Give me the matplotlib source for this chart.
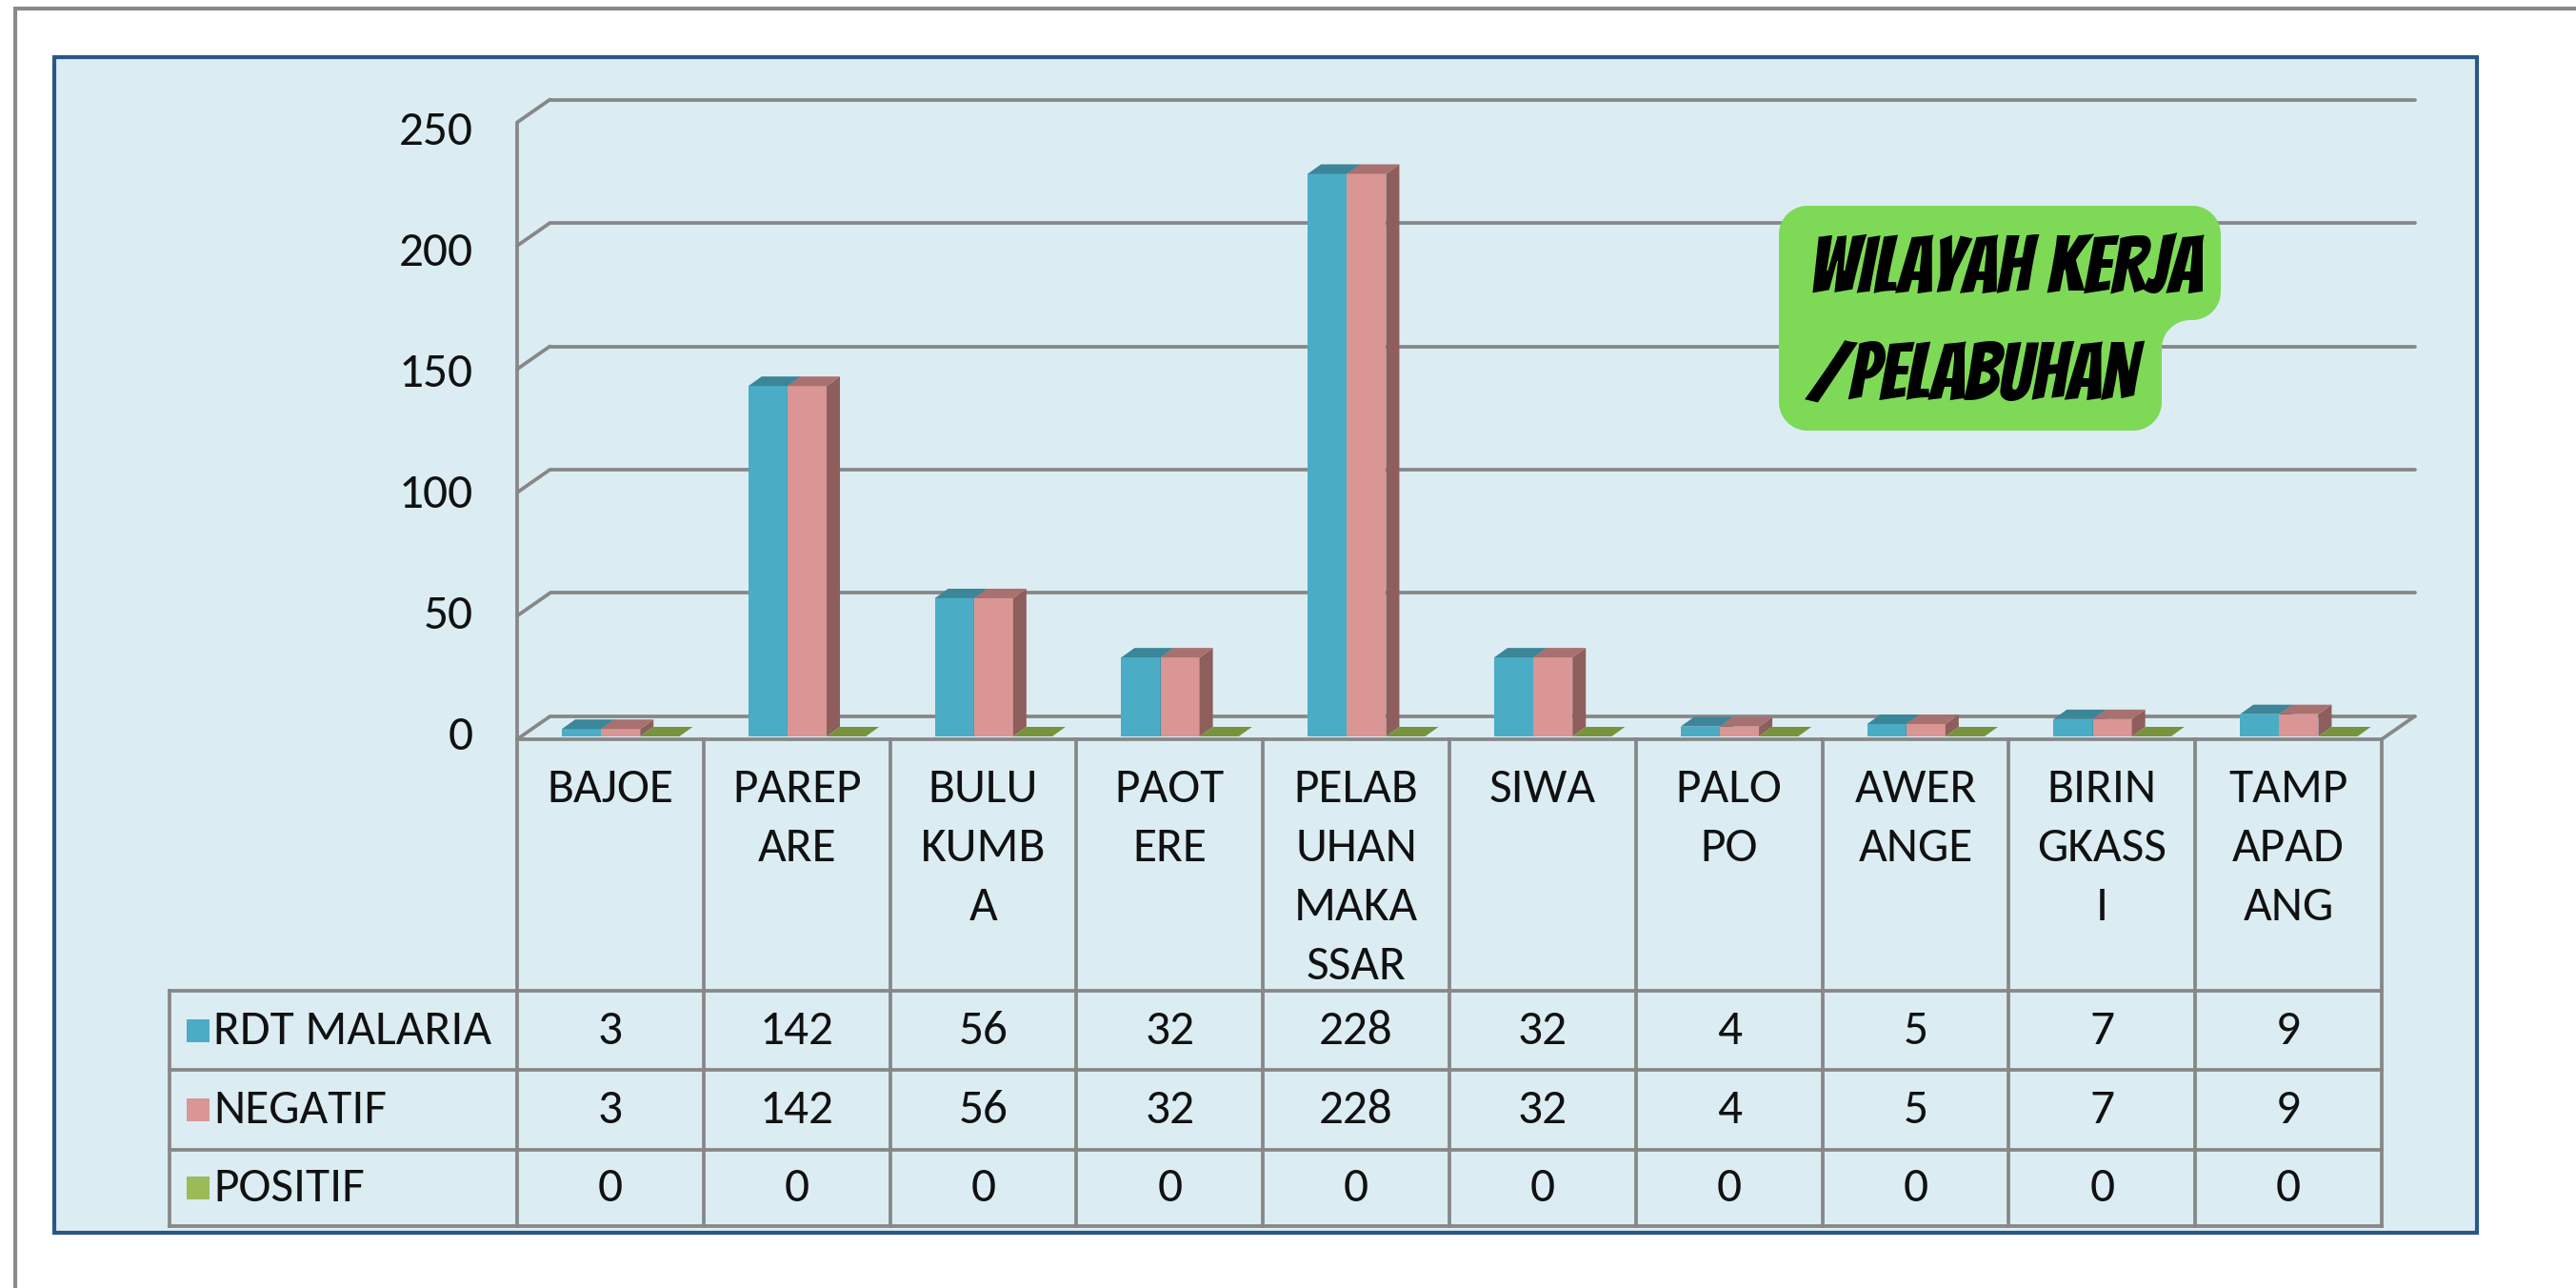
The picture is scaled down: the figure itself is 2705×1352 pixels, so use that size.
import matplotlib
matplotlib.use("Agg")
import matplotlib.pyplot as plt
import numpy as np
from matplotlib.patches import Polygon, Rectangle, PathPatch
from matplotlib.path import Path
import matplotlib.transforms as mtransforms

# ---------------- data ----------------
categories = ["BAJOE", "PAREP\nARE", "BULU\nKUMB\nA", "PAOT\nERE",
              "PELAB\nUHAN\nMAKA\nSSAR", "SIWA", "PALO\nPO", "AWER\nANGE",
              "BIRIN\nGKASS\nI", "TAMP\nAPAD\nANG"]
rdt_malaria = [3, 142, 56, 32, 228, 32, 4, 5, 7, 9]
negatif = [3, 142, 56, 32, 228, 32, 4, 5, 7, 9]
positif = [0, 0, 0, 0, 0, 0, 0, 0, 0, 0]
series_names = ["RDT MALARIA", "NEGATIF", "POSITIF"]
y_ticks = [0, 50, 100, 150, 200, 250]
box_title = "WILAYAH KERJA\n/PELABUHAN"

# ---------------- styling ----------------
W, H, DPI = 2705, 1352, 100
FONT = ["Carlito", "Lato", "DejaVu Sans"]
FS = 37
C_BG = "#DBEDF3"
C_GRID = "#878787"
front_cols = ["#4BACC6", "#D99694", "#9BBB59"]
top_cols = ["#3B8699", "#A8716F", "#77933C"]
side_cols = ["#357A8D", "#8E5E5C", "#6A8535"]

fig = plt.figure(figsize=(W / DPI, H / DPI), dpi=DPI)
fig.patch.set_facecolor("white")

def fx(px):
    return px / W

def fy(py):
    return 1 - py / H

# outer gray frame and light-blue chart area
fig.add_artist(Rectangle((fx(16), fy(1500)), fx(3000), (1500 - 9) / H, fill=False,
                         edgecolor="#8A8A8A", lw=3, transform=fig.transFigure, zorder=-2))
fig.add_artist(Rectangle((fx(57), fy(1294)), fx(2601 - 57), (1294 - 60) / H,
                         facecolor=C_BG, edgecolor="#2A5788", lw=3,
                         transform=fig.transFigure, zorder=-1))

# main axes: x = category units (0..10), y = values
x_left, x_right = 543, 2501
y_base, px_per_unit = 773, 2.59
ymax = 250
ax = fig.add_axes([fx(x_left), fy(y_base), fx(x_right - x_left), ymax * px_per_unit / H])
ax.set_xlim(0, len(categories))
ax.set_ylim(0, ymax)
ax.axis("off")
ax.patch.set_visible(False)

col_px = (x_right - x_left) / len(categories)
dxw = 34.5 / col_px          # wall depth (x units)
back_off = 21 / px_per_unit  # back wall zero level (value units)
front_off = -3 / px_per_unit # front floor edge (value units)
dxb = 14 / col_px            # bar depth
dvb = 10 / px_per_unit
n = len(categories)

lk = dict(color=C_GRID, lw=2.7, clip_on=False, zorder=1, solid_capstyle="round")
# back wall gridlines + diagonals
for v in y_ticks:
    ax.plot([dxw, n + dxw], [v + back_off, v + back_off], **lk)
    ax.plot([0, dxw], [v + front_off, v + back_off], **lk)
# front left axis, front floor edge, right floor edge
ax.plot([0, 0], [front_off, y_ticks[-1] + front_off], **lk)
ax.plot([0, n], [front_off, front_off], **lk)
ax.plot([n, n + dxw], [front_off, back_off], **lk)

# y tick labels
for v in y_ticks:
    ax.text(-0.235, v * 0.981, str(v), ha="right", va="center", fontsize=FS,
            family=FONT, color="#111111", clip_on=False)

# bars
def bar3d(x0, x1, v, k):
    kw = dict(closed=True, ec="none", zorder=3, clip_on=False)
    if v > 0:
        ax.add_patch(Polygon([(x0, 0), (x1, 0), (x1, v), (x0, v)], fc=front_cols[k], **kw))
        ax.add_patch(Polygon([(x1, 0), (x1 + dxb, dvb), (x1 + dxb, v + dvb), (x1, v)],
                             fc=side_cols[k], **kw))
    ax.add_patch(Polygon([(x0, v), (x1, v), (x1 + dxb, v + dvb), (x0 + dxb, v + dvb)],
                         fc=top_cols[k], **kw))

offsets = [0.24, 0.45, 0.66]
bw = 0.21
for i in range(n):
    for k, series in enumerate([rdt_malaria, negatif, positif]):
        x0 = i + offsets[k]
        bar3d(x0, x0 + bw, series[i], k)

# ---------------- data table ----------------
bt = mtransforms.blended_transform_factory(ax.transData, fig.transFigure)
tl = dict(color=C_GRID, lw=2.7, clip_on=False, zorder=1)
table_left_px = 178
rows_px = [1040, 1123, 1207, 1287]
for i in range(n + 1):
    ax.plot([i, i], [fy(776), fy(rows_px[-1])], transform=bt, **tl)
ax_left_data = (table_left_px - x_left) / col_px
for r in rows_px:
    ax.plot([ax_left_data, n], [fy(r), fy(r)], transform=bt, **tl)
ax.plot([ax_left_data, ax_left_data], [fy(rows_px[0]), fy(rows_px[-1])], transform=bt, **tl)

# category labels
for i, c in enumerate(categories):
    ax.text(i + 0.5, fy(806), c, transform=bt, ha="center", va="top", fontsize=FS,
            family=FONT, linespacing=1.5, color="#111111", clip_on=False)

# rows
for r, (name, series) in enumerate(zip(series_names, [rdt_malaria, negatif, positif])):
    yc = (rows_px[r] + rows_px[r + 1]) / 2
    sq = 24
    fig.add_artist(Rectangle((fx(196), fy(yc + sq / 2)), fx(sq), sq / H,
                             facecolor=front_cols[r], edgecolor="none",
                             transform=fig.transFigure, zorder=2))
    fig.text(fx(224), fy(yc), name, ha="left", va="center", fontsize=FS,
             family=FONT, color="#111111")
    for i, val in enumerate(series):
        ax.text(i + 0.5, fy(yc), str(val), transform=bt, ha="center", va="center",
                fontsize=FS, family=FONT, color="#111111", clip_on=False)

# ---------------- green label box ----------------
L, R1, R2, T, N, B, r = 1868, 2332, 2270, 216, 336, 452, 30

def arc(cx, cy, a0, a1, m=20):
    a = np.radians(np.linspace(a0, a1, m))
    return list(zip(cx + r * np.cos(a), cy + r * np.sin(a)))

pts = []
pts += arc(L + r, T + r, 180, 270)
pts += arc(R1 - r, T + r, 270, 360)
pts += arc(R1 - r, N - r, 0, 90)
pts += arc(R2 + r, N + r, 270, 180)
pts += arc(R2 - r, B - r, 0, 90)
pts += arc(L + r, B - r, 90, 180)
pts = [(fx(x), fy(y)) for x, y in pts]
path = Path(pts + [pts[0]], [Path.MOVETO] + [Path.LINETO] * (len(pts) - 1) + [Path.CLOSEPOLY])
fig.add_artist(PathPatch(path, facecolor="#7ED957", edgecolor="none",
                         transform=fig.transFigure, zorder=5))
title_lines = box_title.split("\n")
title_y = [277, 389]
title_x = [1900, 1896]
for line, tx, ty in zip(title_lines, title_x, title_y):
    fig.text(fx(tx), fy(ty), line, ha="left", va="center", fontsize=60,
             family=["Bangers", "Barlow Condensed", "DejaVu Sans"],
             color="black", zorder=6)

fig.savefig("out.png", dpi=DPI, facecolor="white")
